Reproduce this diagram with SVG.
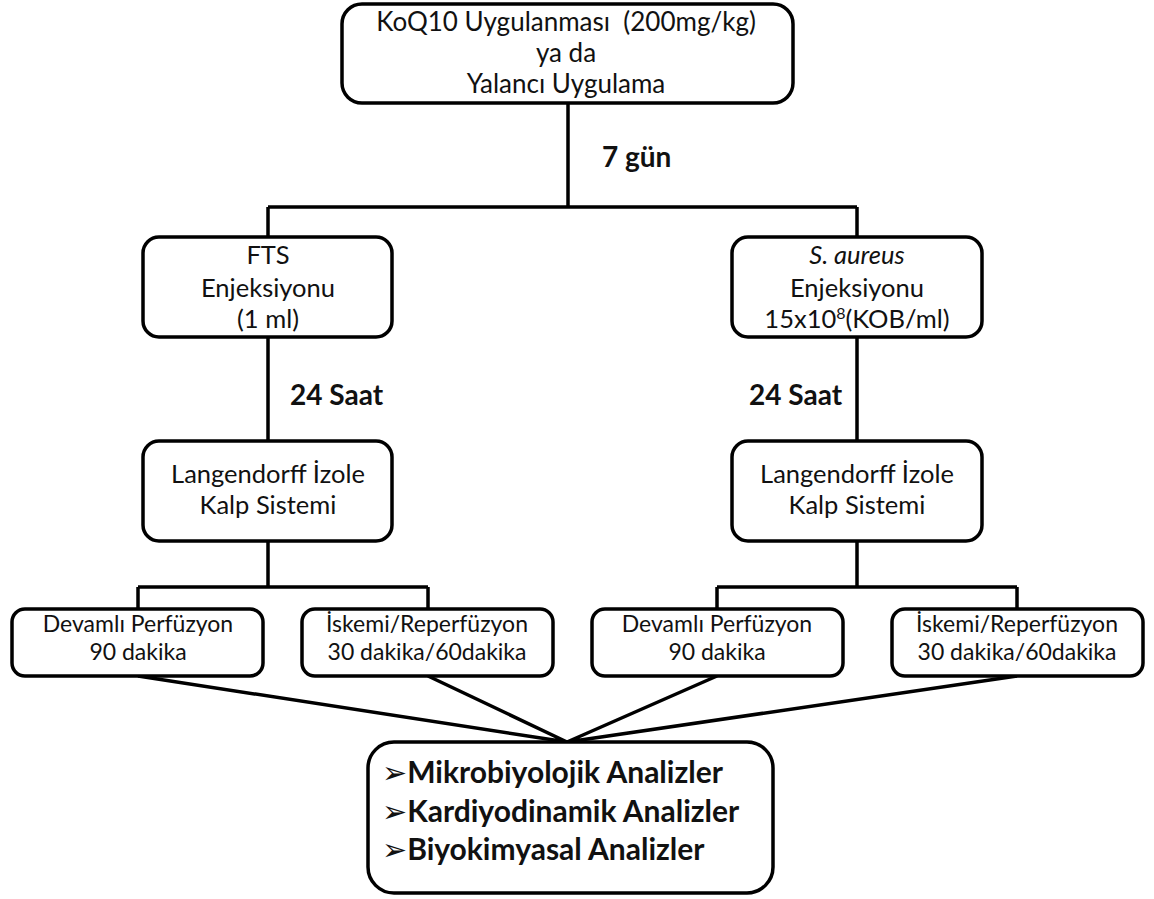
<svg xmlns="http://www.w3.org/2000/svg" width="1154" height="899" viewBox="0 0 1154 899">
<style>
.box{fill:#fff;stroke:#000;stroke-width:3.5}
.ln{fill:none;stroke:#000;stroke-width:3.5}
text{font-family:Lato,"Open Sans","DejaVu Sans",sans-serif;fill:#111;text-anchor:middle}
.t1{font-size:26px}
.t2{font-size:25.5px}
.t3{font-size:23px}
.lb{font-size:28px;font-weight:bold;text-anchor:start}
.bl{font-size:30px;font-weight:bold;text-anchor:start}
.ar{font-family:"DejaVu Sans",sans-serif;font-size:30px;font-weight:normal}
</style>
<rect width="1154" height="899" fill="#fff"/>
<g id="connectors">
<path class="ln" d="M568 103V207M268 207H857M268 207V237M857 207V237"/>
<path class="ln" d="M268 337V441M857 337V441"/>
<path class="ln" d="M268 541V587M138 587H428M138 587V609M428 587V609"/>
<path class="ln" d="M857 541V587M717 587H1017M717 587V609M1017 587V609"/>
<path class="ln" d="M138 676L567 742M428 676L567 742M717 676L567 742M1017 676L567 742"/>
</g>
<g id="top">
<rect class="box" x="342" y="4" width="451" height="99" rx="20"/>
<text class="t1" x="566" y="31">KoQ10 Uygulanması&#160; (200mg/kg)</text>
<text class="t1" x="566" y="62">ya da</text>
<text class="t1" x="566" y="93">Yalancı Uygulama</text>
</g>
<text id="lbl7" class="lb" x="602" y="167">7 gün</text>
<g id="fts">
<rect class="box" x="143" y="237" width="249" height="100" rx="16"/>
<text class="t2" x="268" y="264">FTS</text>
<text class="t2" x="268" y="297">Enjeksiyonu</text>
<text class="t2" x="268" y="328">(1 ml)</text>
</g>
<g id="saureus">
<rect class="box" x="732" y="237" width="250" height="100" rx="16"/>
<text class="t2" x="857" y="264" font-style="italic">S. aureus</text>
<text class="t2" x="857" y="297">Enjeksiyonu</text>
<text class="t2" x="857" y="328">15x10<tspan font-size="16" dy="-9">8</tspan><tspan dy="9">(KOB/ml)</tspan></text>
</g>
<text id="lbl24a" class="lb" x="290" y="405">24 Saat</text>
<text id="lbl24b" class="lb" x="749" y="405">24 Saat</text>
<g id="lang1">
<rect class="box" x="143" y="441" width="249" height="100" rx="16"/>
<text class="t2" x="268" y="483">Langendorff İzole</text>
<text class="t2" x="268" y="514">Kalp Sistemi</text>
</g>
<g id="lang2">
<rect class="box" x="732" y="441" width="250" height="100" rx="16"/>
<text class="t2" x="857" y="483">Langendorff İzole</text>
<text class="t2" x="857" y="514">Kalp Sistemi</text>
</g>
<g id="dp1">
<rect class="box" x="12" y="609" width="251" height="67" rx="13"/>
<text class="t3" x="138" y="632">Devamlı Perfüzyon</text>
<text class="t3" x="138" y="660">90 dakika</text>
</g>
<g id="ir1">
<rect class="box" x="302" y="609" width="251" height="67" rx="13"/>
<text class="t3" x="427" y="632">İskemi/Reperfüzyon</text>
<text class="t3" x="427" y="660">30 dakika/60dakika</text>
</g>
<g id="dp2">
<rect class="box" x="592" y="609" width="251" height="67" rx="13"/>
<text class="t3" x="717" y="632">Devamlı Perfüzyon</text>
<text class="t3" x="717" y="660">90 dakika</text>
</g>
<g id="ir2">
<rect class="box" x="892" y="609" width="251" height="67" rx="13"/>
<text class="t3" x="1017" y="632">İskemi/Reperfüzyon</text>
<text class="t3" x="1017" y="660">30 dakika/60dakika</text>
</g>
<g id="analysis">
<rect class="box" x="368" y="742" width="405" height="151" rx="26"/>
<text class="bl" x="382" y="783"><tspan class="ar">➢</tspan>Mikrobiyolojik Analizler</text>
<text class="bl" x="382" y="822"><tspan class="ar">➢</tspan>Kardiyodinamik Analizler</text>
<text class="bl" x="382" y="860"><tspan class="ar">➢</tspan>Biyokimyasal Analizler</text>
</g>
</svg>
